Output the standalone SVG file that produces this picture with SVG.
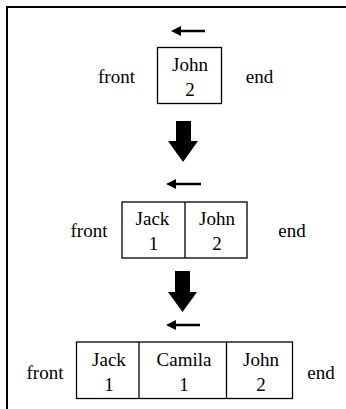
<svg xmlns="http://www.w3.org/2000/svg" width="346" height="409" viewBox="0 0 346 409">
<style>
  .t { font-family: "Liberation Serif", "Times New Roman", serif; font-size: 19px; fill: #000; text-anchor: middle; }
  .box { fill: #fff; stroke: #000; stroke-width: 1.3; }
  .div { stroke: #000; stroke-width: 1.3; }
  .sl { stroke: #000; stroke-width: 2.5; fill: none; }
  .ah { fill: #000; }
</style>
<rect width="346" height="409" fill="#fff"/>
<path d="M7,420 V7 H360" fill="none" stroke="#000" stroke-width="2"/>

<g id="connectors">
  <g id="small-arrow-1">
    <line class="sl" x1="179" y1="31" x2="205" y2="31"/>
    <polygon class="ah" points="171,31 181,26 181,36"/>
  </g>
  <polygon id="big-arrow-1" class="ah" points="176,121 191,121 191,141 198,141 183,162 168,141 176,141"/>
  <g id="small-arrow-2">
    <line class="sl" x1="174" y1="184" x2="201" y2="184"/>
    <polygon class="ah" points="166,184 176,179 176,189"/>
  </g>
  <polygon id="big-arrow-2" class="ah" points="175,271 190,271 190,292 197,292 182.5,312 168,292 175,292"/>
  <g id="small-arrow-3">
    <line class="sl" x1="174" y1="325" x2="200" y2="325"/>
    <polygon class="ah" points="166,325 176,320 176,330"/>
  </g>
</g>

<g id="queue-1">
  <text class="t" x="116.5" y="83">front</text>
  <g id="node-1-john">
    <rect class="box" x="157.5" y="47.5" width="64" height="56"/>
    <text class="t" x="190" y="71">John</text>
    <text class="t" x="190" y="96">2</text>
  </g>
  <text class="t" x="259.5" y="83">end</text>
</g>

<g id="queue-2">
  <text class="t" x="89" y="237">front</text>
  <rect class="box" x="122" y="202" width="125" height="56"/>
  <g id="node-2-jack">
    <text class="t" x="152.5" y="225">Jack</text>
    <text class="t" x="153.5" y="250">1</text>
  </g>
  <line class="div" x1="185" y1="202" x2="185" y2="258"/>
  <g id="node-2-john">
    <text class="t" x="217" y="225">John</text>
    <text class="t" x="217" y="250">2</text>
  </g>
  <text class="t" x="292" y="237">end</text>
</g>

<g id="queue-3">
  <text class="t" x="45" y="379">front</text>
  <rect class="box" x="76.5" y="342" width="216" height="56.5"/>
  <g id="node-3-jack">
    <text class="t" x="109" y="366">Jack</text>
    <text class="t" x="109" y="391">1</text>
  </g>
  <line class="div" x1="139" y1="342" x2="139" y2="398.5"/>
  <g id="node-3-camila">
    <text class="t" x="184" y="366">Camila</text>
    <text class="t" x="184" y="391">1</text>
  </g>
  <line class="div" x1="226.5" y1="342" x2="226.5" y2="398.5"/>
  <g id="node-3-john">
    <text class="t" x="261" y="366">John</text>
    <text class="t" x="261" y="391">2</text>
  </g>
  <text class="t" x="321" y="379">end</text>
</g>
</svg>
